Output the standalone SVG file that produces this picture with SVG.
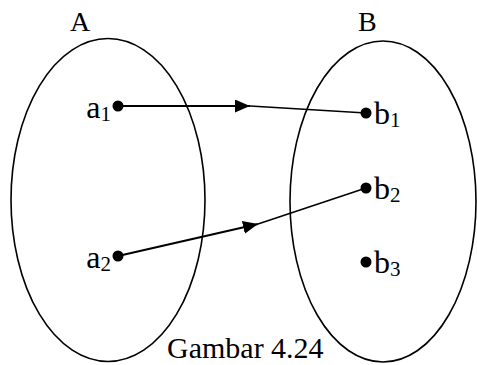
<svg xmlns="http://www.w3.org/2000/svg" width="477" height="365" viewBox="0 0 477 365">
<style>
.set{fill:none;stroke:#000;stroke-width:1.6}
.dot{fill:#000}
.t{font-family:"Liberation Serif","Times New Roman",serif;fill:#000}
.lbl{font-size:32px}
.sub{font-size:21px}
.conn1{stroke:#000;stroke-width:2;fill:none}
.conn2{stroke:#000;stroke-width:1.5;fill:none}
</style>
<defs>
<marker id="arr" markerUnits="userSpaceOnUse" markerWidth="16" markerHeight="14" refX="15" refY="6.5" orient="auto" viewBox="0 0 16 14">
<path d="M0,0 L15,6.5 L0,13 z" fill="#000"/>
</marker>
</defs>
<rect width="477" height="365" fill="#fff"/>
<g id="setA">
<ellipse class="set" cx="108" cy="200" rx="97" ry="161.5"/>
<text class="t" x="70" y="31" font-size="28">A</text>
</g>
<g id="setB">
<ellipse class="set" cx="383" cy="201.5" rx="93" ry="160.5"/>
<text class="t" x="358" y="31" font-size="28">B</text>
</g>
<g id="connectors">
<line class="conn1" x1="118" y1="106" x2="250" y2="106" marker-end="url(#arr)"/>
<line class="conn2" x1="250" y1="106" x2="366" y2="113"/>
<line class="conn1" x1="118" y1="256" x2="258" y2="224" marker-end="url(#arr)"/>
<line class="conn2" x1="258" y1="224" x2="366" y2="188"/>
</g>
<g id="a1">
<circle class="dot" cx="118" cy="106" r="5.5"/>
<text class="t lbl" x="111" y="118" text-anchor="end">a<tspan class="sub" dy="3">1</tspan></text>
</g>
<g id="a2">
<circle class="dot" cx="118" cy="256" r="5.5"/>
<text class="t lbl" x="111" y="268" text-anchor="end">a<tspan class="sub" dy="3">2</tspan></text>
</g>
<g id="b1">
<circle class="dot" cx="366" cy="113" r="5.5"/>
<text class="t lbl" x="374" y="124">b<tspan class="sub" dy="3">1</tspan></text>
</g>
<g id="b2">
<circle class="dot" cx="366" cy="188" r="5.5"/>
<text class="t lbl" x="374" y="199">b<tspan class="sub" dy="3">2</tspan></text>
</g>
<g id="b3">
<circle class="dot" cx="366" cy="262" r="5.5"/>
<text class="t lbl" x="374" y="273">b<tspan class="sub" dy="3">3</tspan></text>
</g>
<g id="caption">
<text class="t" x="167" y="358" font-size="30">Gambar 4.24</text>
</g>
</svg>
